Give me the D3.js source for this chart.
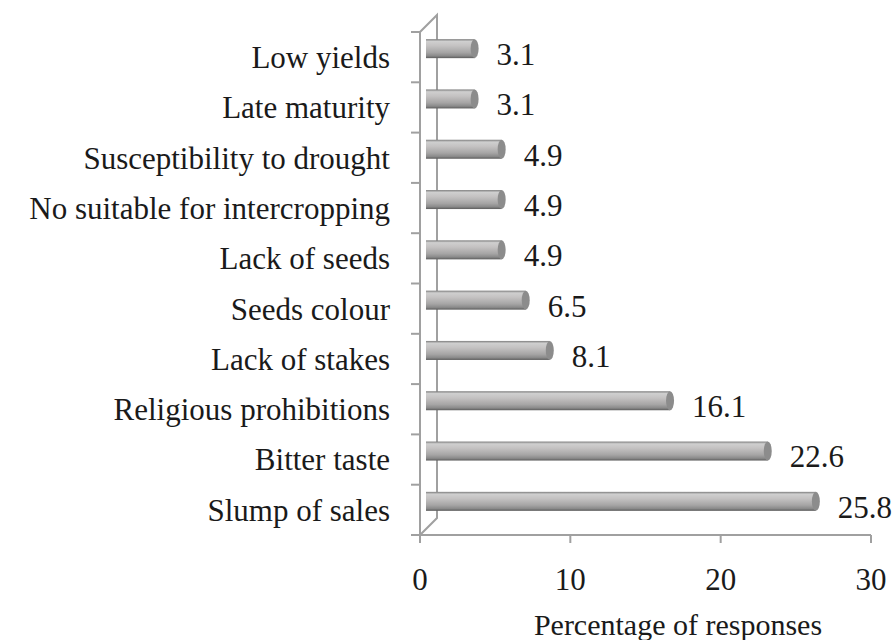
<!DOCTYPE html>
<html lang="en">
<head>
  <meta charset="UTF-8">
  <title>Percentage of responses</title>
<script src="https://d3js.org/d3.v7.min.js"></script>
<style>
  body { margin: 0; background: #fff; }
  text { font-family: "Liberation Serif", "Times New Roman", serif; fill: #1a1a1a; }
</style>
</head>
<body>
<div id="chart"></div>

  <script>

const categories = ['Low yields', 'Late maturity', 'Susceptibility to drought',
  'No suitable for intercropping', 'Lack of seeds', 'Seeds colour',
  'Lack of stakes', 'Religious prohibitions', 'Bitter taste', 'Slump of sales'];
const values = [3.1, 3.1, 4.9, 4.9, 4.9, 6.5, 8.1, 16.1, 22.6, 25.8];
const xTicks = [0, 10, 20, 30];
const xTitle = 'Percentage of responses';

const width = 892;
const height = 640;
const depth = 17;          // 3d wall offset
const fontSize = 31;

const svg = d3.select('#chart')
  .append('svg')
  .attr('width', width)
  .attr('height', height);

const x = d3.scaleLinear().domain([0, 30]).range([420, 871]);
const y = d3.scaleBand().domain(categories).range([32, 535]);

// gradient for the cylinders
const grad = svg.append('defs').append('linearGradient')
  .attr('id', 'cyl').attr('x1', 0).attr('y1', 0).attr('x2', 0).attr('y2', 1);
[['0%', '#7c7c7c'], ['12%', '#cfcfcf'], ['35%', '#c4c2c2'], ['70%', '#a6a5a5'], ['88%', '#8a8a8a'], ['100%', '#5c5c5c']]
  .forEach(s => grad.append('stop').attr('offset', s[0]).attr('stop-color', s[1]));

const axisColor = '#a0a0a0';
const y0 = y.range()[0], y1 = y.range()[1];
const left = x(0);

// back wall + depth lines
const g = svg.append('g').attr('stroke', axisColor).attr('stroke-width', 2).attr('fill', 'none');
g.append('path').attr('d', `M${left},${y0}L${left + depth},${y0 - depth}L${left + depth},${y1 - depth}L${left},${y1}`);

// front vertical axis with ticks at band edges
g.append('line').attr('x1', left).attr('x2', left).attr('y1', y0).attr('y2', y1 + 8);
const edges = categories.map(c => y(c)).concat([y1]);
g.selectAll('.ytick').data(edges).enter().append('line')
  .attr('x1', left - 9).attr('x2', left)
  .attr('y1', d => d).attr('y2', d => d);

// bottom axis
g.append('line').attr('x1', left).attr('x2', x(30)).attr('y1', y1).attr('y2', y1);
g.selectAll('.xtick').data(xTicks).enter().append('line')
  .attr('x1', d => x(d)).attr('x2', d => x(d))
  .attr('y1', y1).attr('y2', y1 + 8);

// bars
const barH = 19;
const rows = categories.map((c, i) => ({ label: c, value: values[i] }));
const bars = svg.append('g').selectAll('g').data(rows).enter().append('g')
  .attr('transform', d => `translate(0, ${y(d.label) + y.bandwidth() / 2 - depth / 2})`);

bars.append('rect')
  .attr('x', left + 6)
  .attr('y', -barH / 2)
  .attr('width', d => x(d.value) + 8 - (left + 6))
  .attr('height', barH)
  .attr('fill', 'url(#cyl)');

bars.append('ellipse')
  .attr('cx', d => x(d.value) + 8)
  .attr('cy', 0)
  .attr('rx', 4)
  .attr('ry', barH / 2)
  .attr('fill', '#8c8c8c');

// category labels
svg.append('g').selectAll('text').data(categories).enter().append('text')
  .attr('x', 390)
  .attr('y', d => y(d) + y.bandwidth() / 2)
  .attr('dy', '0.35em')
  .attr('text-anchor', 'end')
  .style('font-size', fontSize + 'px')
  .text(d => d);

// value labels
svg.append('g').selectAll('text').data(rows).enter().append('text')
  .attr('x', d => x(d.value) + 30)
  .attr('y', d => y(d.label) + y.bandwidth() / 2 - 3)
  .attr('dy', '0.35em')
  .style('font-size', fontSize + 'px')
  .text(d => d.value.toFixed(1));

// x tick labels
svg.append('g').selectAll('text').data(xTicks).enter().append('text')
  .attr('x', d => x(d))
  .attr('y', 579)
  .attr('dy', '0.35em')
  .attr('text-anchor', 'middle')
  .style('font-size', fontSize + 'px')
  .text(d => d);

svg.append('text')
  .attr('x', 678)
  .attr('y', 624)
  .attr('dy', '0.35em')
  .attr('text-anchor', 'middle')
  .style('font-size', '30px')
  .text(xTitle);

  </script>
</body>
</html>
